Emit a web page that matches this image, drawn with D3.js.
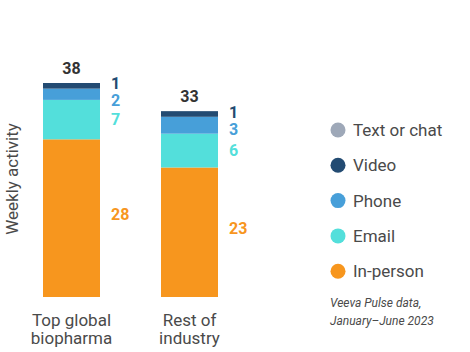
<!DOCTYPE html>
<html>
<head>
<meta charset="utf-8">
<script src="https://cdn.jsdelivr.net/npm/d3@7"></script>
<style>
  body { margin: 0; background: #fff; }
  svg { font-family: Roboto, sans-serif; }
</style>
</head>
<body>
<svg id="chart" width="470" height="352"></svg>
<script>
const categories = ["Top global biopharma", "Rest of industry"];
const categoryLines = [["Top global", "biopharma"], ["Rest of", "industry"]];
const channels = ["In-person", "Email", "Phone", "Video", "Text or chat"];
const inPerson = [28, 23];
const email = [7, 6];
const phone = [2, 3];
const video = [1, 1];
const textChat = [0, 0];
const totals = [38, 33];
const legendOrder = ["Text or chat", "Video", "Phone", "Email", "In-person"];
const sourceLines = ["Veeva Pulse data,", "January\u2013June 2023"];

const colors = {
  "In-person": "#f7961e",
  "Email": "#53dfdb",
  "Phone": "#479fd9",
  "Video": "#234b72",
  "Text or chat": "#9ea8b8"
};

const svg = d3.select("#chart");
const textColor = "#4a4a4a";

const seriesValues = {
  "In-person": inPerson,
  "Email": email,
  "Phone": phone,
  "Video": video,
  "Text or chat": textChat
};

const rows = categories.map((c, i) => {
  const r = { cat: c };
  channels.forEach(k => r[k] = seriesValues[k][i]);
  return r;
});

const stacked = d3.stack().keys(channels)(rows);

const x = d3.scaleBand()
  .domain(categories)
  .range([12.5, 248.5])
  .paddingInner(0.517)
  .paddingOuter(0.2585);

const y = d3.scaleLinear()
  .domain([0, 38])
  .range([297, 83]);

// bars
svg.append("g")
  .selectAll("g")
  .data(stacked)
  .join("g")
  .attr("fill", d => colors[d.key])
  .selectAll("rect")
  .data(d => d)
  .join("rect")
  .attr("x", d => x(d.data.cat))
  .attr("y", d => y(d[1]))
  .attr("width", x.bandwidth())
  .attr("height", d => y(d[0]) - y(d[1]));

// value labels to the right of each bar, nudged apart
categories.forEach((cat, i) => {
  const labels = stacked
    .filter(s => s.key !== "Text or chat")
    .map(s => ({
      key: s.key,
      value: s[i][1] - s[i][0],
      yc: (y(s[i][0]) + y(s[i][1])) / 2
    }))
    .sort((a, b) => a.yc - b.yc);
  labels[0].yc -= 2;
  const gap = 17;
  for (let j = 1; j < labels.length; j++) {
    if (labels[j].yc - labels[j - 1].yc < gap) labels[j].yc = labels[j - 1].yc + gap;
  }
  labels.forEach(l => { if (l.key === "In-person") l.yc -= 4; });

  svg.append("g")
    .selectAll("text")
    .data(labels)
    .join("text")
    .attr("x", x(cat) + x.bandwidth() + 11)
    .attr("y", d => d.yc)
    .attr("dy", "0.35em")
    .attr("fill", d => colors[d.key])
    .style("font-size", "16px")
    .style("font-weight", "bold")
    .text(d => d.value);

  svg.append("text")
    .attr("x", x(cat) + x.bandwidth() / 2)
    .attr("y", y(totals[i]) - 9)
    .attr("text-anchor", "middle")
    .attr("fill", "#333")
    .style("font-size", "16px")
    .style("font-weight", "bold")
    .text(totals[i]);

  svg.append("text")
    .attr("x", x(cat) + x.bandwidth() / 2)
    .attr("y", 326)
    .attr("text-anchor", "middle")
    .attr("fill", textColor)
    .style("font-size", "17px")
    .selectAll("tspan")
    .data(categoryLines[i])
    .join("tspan")
    .attr("x", x(cat) + x.bandwidth() / 2)
    .attr("dy", (d, k) => k === 0 ? 0 : 18)
    .text(d => d);
});

// y axis title
svg.append("text")
  .attr("transform", "translate(18,179) rotate(-90)")
  .attr("text-anchor", "middle")
  .attr("fill", textColor)
  .style("font-size", "17px")
  .text("Weekly activity");

// legend
const legend = svg.append("g")
  .attr("transform", "translate(338,130)");

const items = legend.selectAll("g")
  .data(legendOrder)
  .join("g")
  .attr("transform", (d, i) => `translate(0,${i * 35.3})`);

items.append("circle")
  .attr("r", 7.5)
  .attr("fill", d => colors[d]);

items.append("text")
  .attr("x", 15)
  .attr("dy", "0.35em")
  .attr("fill", textColor)
  .style("font-size", "17px")
  .text(d => d);

svg.append("g")
  .selectAll("text")
  .data(sourceLines)
  .join("text")
  .attr("x", 330)
  .attr("y", (d, i) => 307 + i * 18)
  .attr("fill", textColor)
  .style("font-size", "12px")
  .style("font-style", "italic")
  .text(d => d);
</script>
</body>
</html>
